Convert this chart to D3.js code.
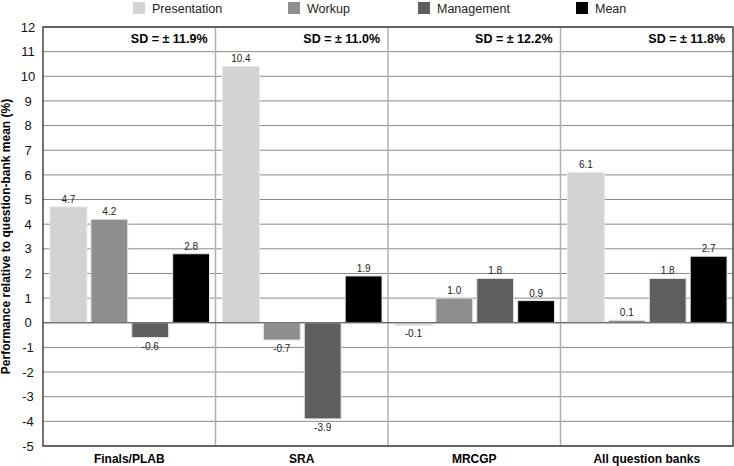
<!DOCTYPE html>
<html>
<head>
<meta charset="utf-8">
<script src="https://cdn.jsdelivr.net/npm/d3@7"></script>
<style>
  body { margin: 0; background: #fff; }
  text { font-family: "Liberation Sans", Arial, Helvetica, sans-serif; }
</style>
</head>
<body>
<div id="chart"></div>
<script>
// Data
var categories = ["Finals/PLAB", "SRA", "MRCGP", "All question banks"];
var seriesNames = ["Presentation", "Workup", "Management", "Mean"];
var seriesColors = ["#d3d3d3", "#8e8e8e", "#5e5e5e", "#000000"];
var presentation = [4.7, 10.4, -0.1, 6.1];
var workup = [4.2, -0.7, 1.0, 0.1];
var management = [-0.6, -3.9, 1.8, 1.8];
var mean = [2.8, 1.9, 0.9, 2.7];
var sdLabels = ["SD = ± 11.9%", "SD = ± 11.0%", "SD = ± 12.2%", "SD = ± 11.8%"];
var yTicks = d3.range(-5, 13);

var seriesValues = [presentation, workup, management, mean];

var W = 734, H = 466;
var margin = {top: 27, right: 1, bottom: 20, left: 43};
var width = W - margin.left - margin.right,
	height = H - margin.top - margin.bottom;

var svg = d3.select("#chart")
	.append("svg")
		.attr("width", W)
		.attr("height", H)
	.append("g")
		.attr("transform", "translate(" + margin.left + "," + margin.top + ")");

// Scales
var yScale = d3.scaleLinear().domain([-5, 12]).range([height, 0]);
var x0 = d3.scaleBand().domain(categories).range([0, width]).padding(0);
var x1 = d3.scaleBand().domain(seriesNames).range([7, x0.bandwidth() - 6]).paddingInner(0.1);

// Horizontal grid
svg.append("g")
	.selectAll("line")
	.data(yTicks)
	.enter().append("line")
		.attr("x1", 0)
		.attr("x2", width)
		.attr("y1", d => yScale(d))
		.attr("y2", d => yScale(d))
		.attr("stroke", "#8a8a8a")
		.attr("stroke-width", 1);

// Group dividers
svg.append("g")
	.selectAll("line")
	.data(categories.slice(1))
	.enter().append("line")
		.attr("x1", d => x0(d))
		.attr("x2", d => x0(d))
		.attr("y1", 0)
		.attr("y2", height)
		.attr("stroke", "#b0b0b0")
		.attr("stroke-width", 1.5);

// Y axis tick labels (plain hyphen for negatives, like the original)
var yAxis = d3.axisLeft(yScale).tickValues(yTicks).tickSize(0).tickPadding(10)
	.tickFormat(d => String(d));
var yAx = svg.append("g").attr("class", "y axis").call(yAxis);
yAx.select(".domain").remove();
yAx.selectAll("text")
	.style("font-size", "13px")
	.attr("fill", "#111")
	.attr("text-anchor", "middle")
	.attr("x", -15);

// Bars
var rows = [];
categories.forEach((c, i) => {
	seriesNames.forEach((s, j) => {
		rows.push({cat: c, series: s, value: seriesValues[j][i], color: seriesColors[j]});
	});
});

var bars = svg.append("g").selectAll("g")
	.data(rows)
	.enter().append("g");

bars.append("rect")
	.attr("x", d => x0(d.cat) + x1(d.series))
	.attr("width", x1.bandwidth())
	.attr("y", d => yScale(Math.max(0, d.value)))
	.attr("height", d => Math.abs(yScale(d.value) - yScale(0)))
	.attr("fill", d => d.color)
	.attr("stroke", "#e6e6e6")
	.attr("stroke-width", 1);

bars.append("text")
	.attr("x", d => x0(d.cat) + x1(d.series) + x1.bandwidth() / 2)
	.attr("y", d => d.value >= 0 ? yScale(d.value) - 4 : yScale(d.value) + 12)
	.attr("text-anchor", "middle")
	.style("font-size", "10px")
	.attr("fill", "#222")
	.text(d => d.value.toFixed(1));

// Zero line
svg.append("line")
	.attr("x1", 0).attr("x2", width)
	.attr("y1", yScale(0)).attr("y2", yScale(0))
	.attr("stroke", "#555")
	.attr("stroke-width", 1);

// Plot border
svg.append("rect")
	.attr("x", 0).attr("y", 0)
	.attr("width", width).attr("height", height)
	.attr("fill", "none")
	.attr("stroke", "#444")
	.attr("stroke-width", 1.5);

// SD labels
svg.append("g").selectAll("text")
	.data(categories)
	.enter().append("text")
		.attr("x", d => x0(d) + x0.bandwidth() - 8)
		.attr("y", 16)
		.attr("text-anchor", "end")
		.style("font-size", "12.5px")
		.style("font-weight", "bold")
		.text((d, i) => sdLabels[i]);

// Category labels
svg.append("g").selectAll("text")
	.data(categories)
	.enter().append("text")
		.attr("x", d => x0(d) + x0.bandwidth() / 2)
		.attr("y", height + 17)
		.attr("text-anchor", "middle")
		.style("font-size", "12px")
		.style("font-weight", "bold")
		.text(d => d);

// Y axis title
svg.append("text")
	.attr("transform", "translate(" + (-33) + "," + (height / 2) + ") rotate(-90)")
	.attr("text-anchor", "middle")
	.style("font-size", "12px")
	.style("font-weight", "bold")
	.text("Performance relative to question-bank mean (%)");

// Legend
var legendX = [133, 288, 418, 576];
var legend = d3.select("#chart svg").append("g").selectAll("g")
	.data(seriesNames)
	.enter().append("g")
		.attr("transform", (d, i) => "translate(" + legendX[i] + ",2)");
legend.append("rect")
	.attr("width", 12).attr("height", 12)
	.attr("fill", (d, i) => seriesColors[i]);
legend.append("text")
	.attr("x", 19).attr("y", 11)
	.style("font-size", "12.5px")
	.attr("fill", "#222")
	.text(d => d);
</script>
</body>
</html>
